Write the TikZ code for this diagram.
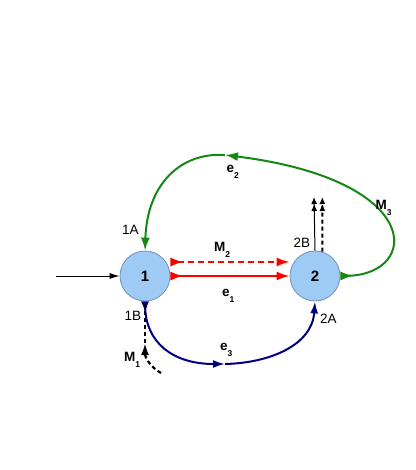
\documentclass[tikz,border=0pt]{standalone}
\usepackage{fontspec}
\setmainfont{Liberation Sans}
\usetikzlibrary{arrows.meta}
\definecolor{nodefill}{RGB}{158,202,246}
\definecolor{nodeborder}{RGB}{115,145,185}
\definecolor{grn}{RGB}{20,135,20}
\definecolor{rd}{RGB}{255,0,0}
\definecolor{nvy}{RGB}{0,0,128}
\newcommand{\sublbl}[2]{\textbf{#1}\raisebox{-6pt}{\fontsize{8.5}{8.5}\selectfont\textbf{#2}}}
\begin{document}
\begin{tikzpicture}[x=1pt,y=-1pt,
  state/.style={circle,draw=nodeborder,line width=0.8pt,fill=nodefill,minimum size=50pt,inner sep=0pt,font=\fontsize{15}{15}\selectfont\bfseries},
  lab/.style={inner sep=0pt,anchor=base west,font=\fontsize{13.5}{14}\selectfont},
  bigtip/.tip={Latex[length=13pt,width=9pt]},
  midtip/.tip={Latex[length=12pt,width=8pt]},
  redl/.style={draw=rd,line width=2pt},
  greenl/.style={draw=grn,line width=2pt},
  bluel/.style={draw=nvy,line width=2pt},
  blkdash/.style={draw=black,line width=2.2pt,dash pattern=on 4pt off 3pt}
]
\useasboundingbox (0,0) rectangle (415,470);
\node[state] (n1) at (145,276) {1};
\node[state] (n2) at (315,276) {2};
\coordinate (gtop) at (225,155);
\coordinate (bbot) at (225,364);
\coordinate (m1s) at (161,373);
\coordinate (m1a) at (145,343);
\coordinate (up1) at (314,197);
\coordinate (up2) at (322.3,197);
\coordinate (inp) at (56,276);

% input
\draw[line width=0.9pt,-{Latex[length=10pt,width=6pt]}] (inp) -- (n1.west);

% red
\draw[redl,dash pattern=on 6pt off 4pt,{bigtip[reversed]}-{bigtip}] ([yshift=14pt]n1.east) -- ([yshift=14pt]n2.west);
\draw[redl,{bigtip[reversed]}-{bigtip}] (n1.east) -- (n2.west);

% green
\draw[greenl,{bigtip[reversed]}-{bigtip}] (n2.east) .. controls (420,274) and (425,180) .. (gtop);
\draw[greenl,-{bigtip}] (gtop) .. controls (180,152) and (147,185) .. (n1.north);

% blue
\draw[bluel,{midtip[reversed]}-{midtip}] (n1.south) .. controls (146,340) and (170,364) .. (bbot);
\draw[bluel,-{midtip}] (bbot) .. controls (270,363) and (312,345) .. (n2.south);

% M1 dashed
\draw[blkdash,-{Latex[length=12pt,width=8pt]}] (m1s) .. controls (150,367) and (145,357) .. (m1a);
\draw[blkdash] (m1a) -- (n1.south);

% up arrows
\draw[line width=1pt,-{Latex[length=7pt,width=6pt] Latex[length=7pt,width=6pt]}] (n2.north) -- (up1);
\draw[line width=2pt,dash pattern=on 4pt off 3pt,-{Latex[length=7pt,width=6pt] Latex[length=7pt,width=6pt]}] (n2.73) -- (up2);

% labels
\node[lab] (l1a) at (122,234) {1A};
\node[lab] (l2b) at (293.5,247.3) {2B};
\node[lab] (l1b) at (124.5,320) {1B};
\node[lab] (l2a) at (320,323.3) {2A};
\node[lab] (lm2) at (214,251.3) {\sublbl{M}{2}};
\node[lab] (le1) at (222,296.7) {\sublbl{e}{1}};
\node[lab] (le2) at (226.5,172.7) {\sublbl{e}{2}};
\node[lab] (lm3) at (375.5,209.3) {\sublbl{M}{3}};
\node[lab] (lm1) at (124,361.7) {\sublbl{M}{1}};
\node[lab] (le3) at (220,350.7) {\sublbl{e}{3}};
\end{tikzpicture}
\end{document}
